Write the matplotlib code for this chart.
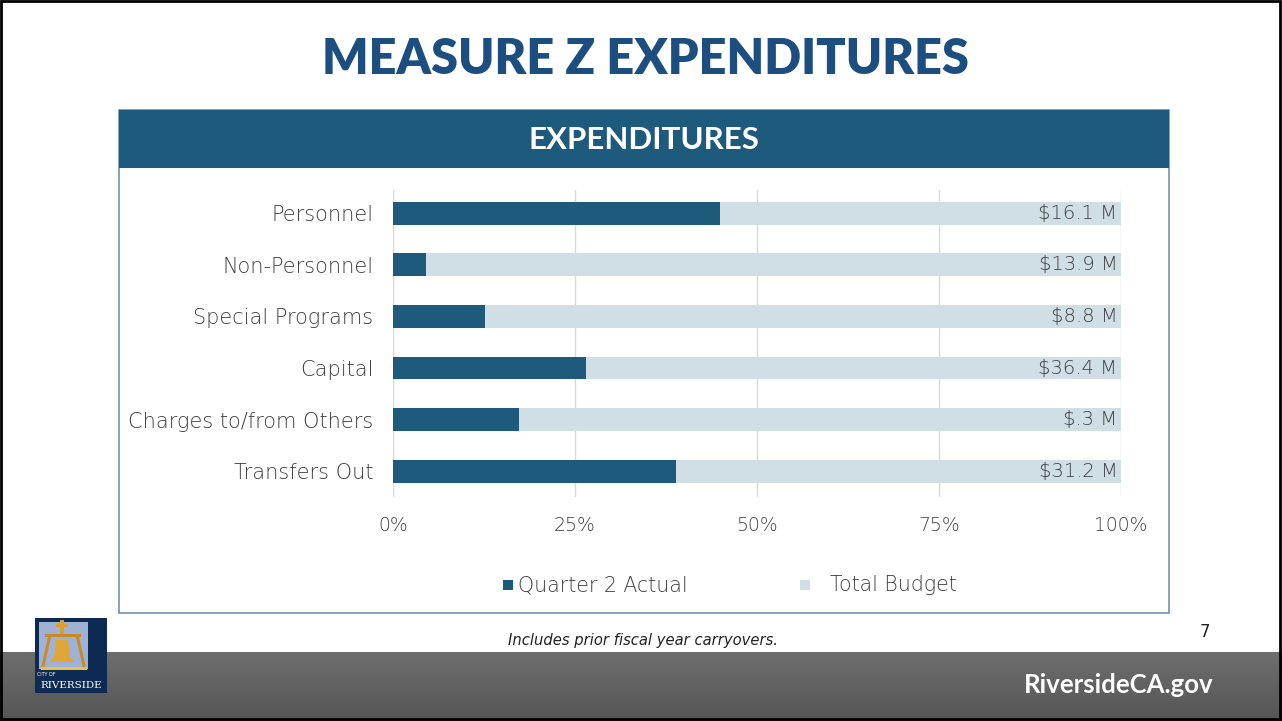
import numpy as np
import matplotlib.pyplot as plt
from matplotlib.patches import Rectangle, Polygon

categories = ['Personnel', 'Non-Personnel', 'Special Programs', 'Capital',
              'Charges to/from Others', 'Transfers Out']
actual_pct = [44.9, 4.5, 12.6, 26.5, 17.3, 38.9]
budget_pct = [100, 100, 100, 100, 100, 100]
budget_labels = ['$16.1 M', '$13.9 M', '$8.8 M', '$36.4 M', '$.3 M', '$31.2 M']
ticks = [0, 25, 50, 75, 100]
tick_labels = ['0%', '25%', '50%', '75%', '100%']

DARK = '#1e5a7c'
LIGHT = '#d0dee6'
TITLE = '#1c4f80'
GREY = '#3f3f3f'
FONT = 'Lato'
BODY = 'DejaVu Sans'

W, H = 1282, 721
fig = plt.figure(figsize=(W / 100, H / 100), dpi=100)


def fx(x):
    return x / W


def fy(y):
    return 1 - y / H


# background overlay axes in pixel coordinates
bg = fig.add_axes([0, 0, 1, 1])
bg.axis('off')

# footer gradient band
grad = np.linspace(0, 1, 100).reshape(-1, 1)
cmap = plt.matplotlib.colors.LinearSegmentedColormap.from_list('g', ['#6e6e6e', '#555555'])
bg.imshow(grad, extent=[0, W, H, 652], cmap=cmap, aspect='auto', zorder=0)
bg.set_xlim(0, W)
bg.set_ylim(H, 0)
bg.add_patch(Rectangle((1, 1), W - 3, H - 3, fill=False, ec='black', lw=2, zorder=10))

bg.text(645, 59, 'MEASURE Z EXPENDITURES', ha='center', va='center', fontsize=35,
        fontweight='heavy', color=TITLE, family=FONT)

# chart box
bg.add_patch(Rectangle((119, 110), 1050, 503, fill=False, ec='#6f93b0', lw=1.2, zorder=2))
bg.add_patch(Rectangle((119, 110), 1050, 58, fc=DARK, ec='none', zorder=3))
bg.text(644, 140, 'EXPENDITURES', ha='center', va='center', fontsize=22.5,
        fontweight='bold', color='white', family=FONT, zorder=4)

bg.text(643, 641, 'Includes prior fiscal year carryovers.', ha='center', va='center',
        fontsize=10.6, style='italic', color='#222222', family=BODY)
bg.text(1205, 632, '7', ha='center', va='center', fontsize=12, color='#222222', family=BODY)
bg.text(1213, 685, 'RiversideCA.gov', ha='right', va='center', fontsize=18.5,
        fontweight='bold', color='white', family=FONT, zorder=5)

# legend
bg.add_patch(Rectangle((503, 580), 10, 10, fc=DARK, ec='none'))
bg.text(518, 585, 'Quarter 2 Actual', va='center', fontsize=14.8, color=GREY, family=BODY,
        fontweight='light')
bg.add_patch(Rectangle((800, 580), 10, 10, fc=LIGHT, ec='none'))
bg.text(830, 585, 'Total Budget', va='center', fontsize=14.8, color=GREY, family=BODY,
        fontweight='light')

# logo
bg.add_patch(Rectangle((35, 618), 72, 75, fc='#0d2a52', ec='none', zorder=5))
bg.add_patch(Rectangle((39, 622), 49, 47, fc='#9fb2d4', ec='none', zorder=5))
bg.add_patch(Rectangle((60, 620), 4, 14, fc='#d9a030', zorder=6))
bg.add_patch(Rectangle((56, 624), 12, 2.5, fc='#d9a030', zorder=6))
bg.add_patch(Rectangle((45, 634), 36, 3, fc='#c88a28', zorder=6))
bg.add_patch(Polygon([(48, 637), (51, 637), (44, 668), (41, 668)], fc='#c88a28', zorder=6))
bg.add_patch(Polygon([(76, 637), (79, 637), (86, 668), (83, 668)], fc='#c88a28', zorder=6))
bg.add_patch(Polygon([(56, 640), (68, 640), (70, 657), (75, 662), (49, 662), (54, 657)],
                     fc='#e0a63a', zorder=6))
bg.add_patch(Rectangle((41, 667), 46, 2.5, fc='#e8c04a', zorder=6))
bg.text(37, 675, 'CITY OF', fontsize=3.5, color='white', family=FONT, zorder=7, va='center')
bg.text(71, 685, 'RIVERSIDE', fontsize=7.5, color='white', family='DejaVu Serif',
        ha='center', va='center', zorder=7)

# bar chart
ax = fig.add_axes([fx(393), fy(497), fx(1121) - fx(393), fy(190) - fy(497)])
y = np.arange(len(categories))
ax.barh(y, budget_pct, height=0.44, color=LIGHT, zorder=2)
ax.barh(y, actual_pct, height=0.44, color=DARK, zorder=3)
for yi, lab in zip(y, budget_labels):
    ax.text(99.5, yi, lab, ha='right', va='center', fontsize=14, color=GREY,
            family=BODY, fontweight='light', zorder=4)
ax.set_xlim(0, 100)
ax.set_ylim(5.5, -0.45)
ax.set_xticks(ticks)
ax.set_xticklabels(tick_labels, family=BODY, fontsize=13.5, color=GREY, fontweight='light')
ax.set_yticks(y)
ax.set_yticklabels(categories, family=BODY, fontsize=15, color=GREY, fontweight='light')
ax.tick_params(length=0, pad=14, axis='y')
ax.tick_params(length=0, pad=14, axis='x')
ax.grid(axis='x', color='#d9d9d9', lw=1, zorder=1)
ax.patch.set_alpha(0)
for s in ax.spines.values():
    s.set_visible(False)
ax.axvline(0, color='#d9d9d9', lw=1.5, zorder=1)

fig.savefig('out.png', dpi=100)
